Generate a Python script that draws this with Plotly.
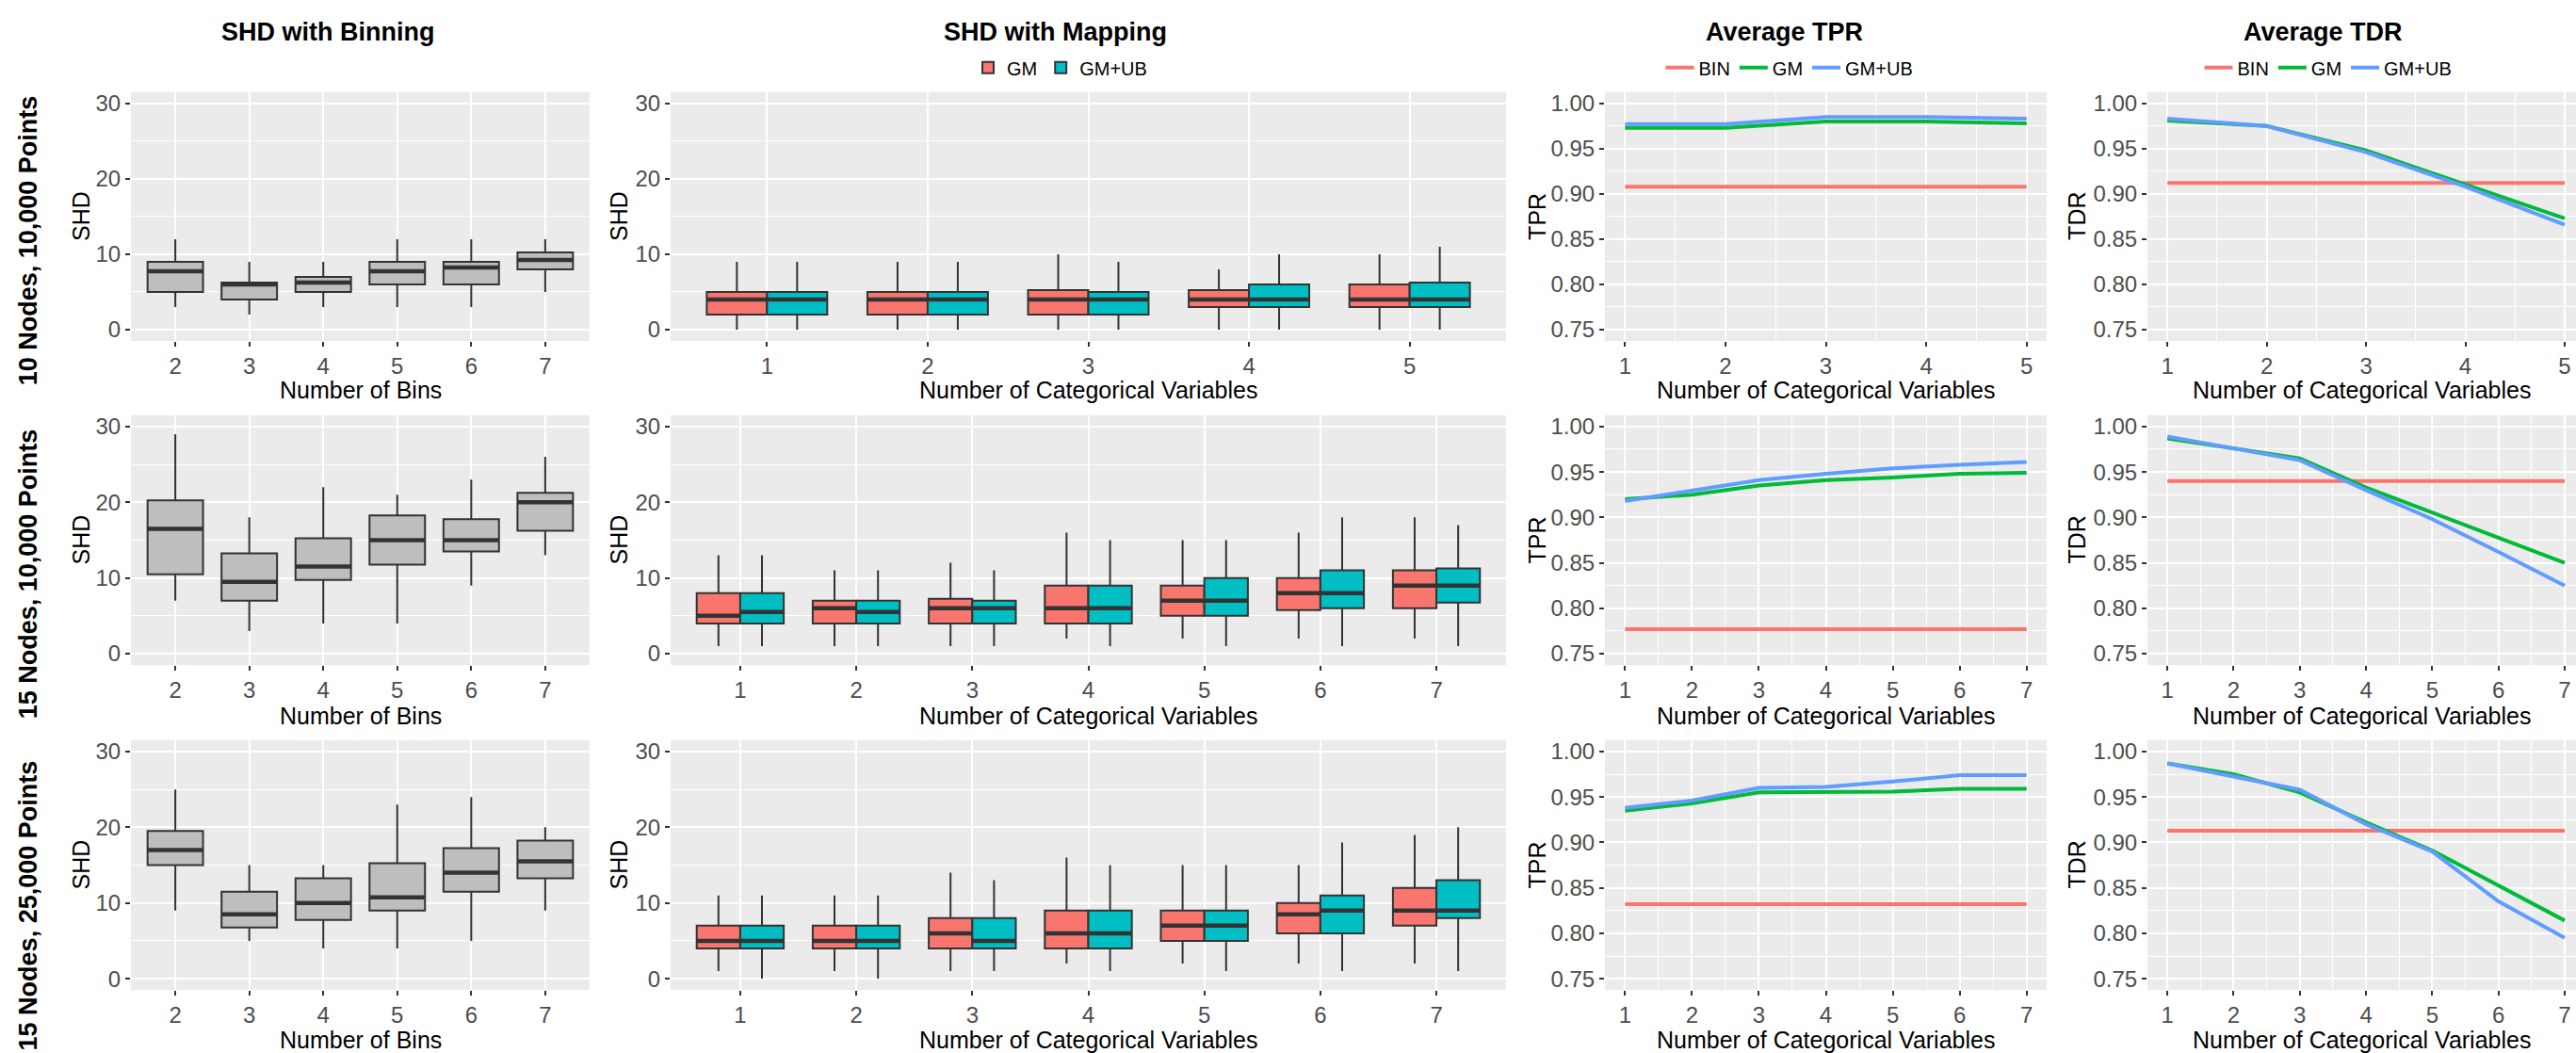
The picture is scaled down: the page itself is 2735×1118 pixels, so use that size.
import plotly.graph_objects as go

W, H = 2735, 1118

# ---------------- labels ----------------
row_labels = ["10 Nodes, 10,000 Points", "15 Nodes, 10,000 Points", "15 Nodes, 25,000 Points"]
col_titles = ["SHD with Binning", "SHD with Mapping", "Average TPR", "Average TDR"]
x_titles = ["Number of Bins", "Number of Categorical Variables",
            "Number of Categorical Variables", "Number of Categorical Variables"]
y_titles = ["SHD", "SHD", "TPR", "TDR"]

# ---------------- SHD with binning (rows: 10n/10k, 15n/10k, 15n/25k) ----------------
bins = [2, 3, 4, 5, 6, 7]
bin_low = [[3, 2, 3, 3, 3, 5], [7, 3, 4, 4, 9, 13], [9, 5, 4, 4, 5, 9]]
bin_q1 = [[5, 4, 5, 6, 6, 8], [10.5, 7, 9.75, 11.75, 13.5, 16.25], [15, 6.75, 7.75, 9, 11.5, 13.25]]
bin_med = [[7.75, 6, 6.25, 7.75, 8.25, 9.25], [16.5, 9.5, 11.5, 15, 15, 20], [17, 8.5, 10, 10.75, 14, 15.5]]
bin_q3 = [[9, 6.25, 7, 9, 9, 10.25], [20.25, 13.25, 15.25, 18.25, 17.75, 21.25], [19.5, 11.5, 13.25, 15.25, 17.25, 18.25]]
bin_high = [[12, 9, 9, 12, 12, 12], [29, 18, 22, 21, 23, 26], [25, 15, 15, 23, 24, 20]]

# ---------------- SHD with mapping ----------------
cat_vars = [[1, 2, 3, 4, 5], [1, 2, 3, 4, 5, 6, 7], [1, 2, 3, 4, 5, 6, 7]]

gm_low = [[0, 0, 0, 0, 0], [1, 1, 1, 2, 2, 2, 2], [1, 1, 1, 2, 2, 2, 2]]
gm_q1 = [[2, 2, 2, 3, 3], [4, 4, 4, 4, 5, 5.75, 6], [4, 4, 4, 4, 5, 6, 7]]
gm_med = [[4, 4, 4, 4, 4], [5, 6, 6, 6, 7, 8, 9], [5, 5, 6, 6, 7, 8.5, 9]]
gm_q3 = [[5, 5, 5.25, 5.25, 6], [8, 7, 7.25, 9, 9, 10, 11], [7, 7, 8, 9, 9, 10, 12]]
gm_high = [[9, 9, 10, 8, 10], [13, 11, 12, 16, 15, 16, 18], [11, 11, 14, 16, 15, 15, 19]]

ub_low = [[0, 0, 0, 0, 0], [1, 1, 1, 1, 1, 1, 1], [0, 0, 1, 1, 1, 1, 1]]
ub_q1 = [[2, 2, 2, 3, 3], [4, 4, 4, 4, 5, 6, 6.75], [4, 4, 4, 4, 5, 6, 8]]
ub_med = [[4, 4, 4, 4, 4], [5.5, 5.5, 6, 6, 7, 8, 9], [5, 5, 5, 6, 7, 9, 9]]
ub_q3 = [[5, 5, 5, 6, 6.25], [8, 7, 7, 9, 10, 11, 11.25], [7, 7, 8, 9, 9, 11, 13]]
ub_high = [[9, 9, 9, 10, 11], [13, 11, 11, 15, 15, 18, 17], [11, 11, 13, 15, 15, 18, 20]]

# ---------------- average TPR ----------------
tpr_bin = [[0.908, 0.908, 0.908, 0.908, 0.908],
           [0.777, 0.777, 0.777, 0.777, 0.777, 0.777, 0.777],
           [0.832, 0.832, 0.832, 0.832, 0.832, 0.832, 0.832]]
tpr_gm = [[0.973, 0.973, 0.980, 0.980, 0.978],
          [0.920, 0.925, 0.935, 0.941, 0.944, 0.948, 0.949],
          [0.935, 0.943, 0.955, 0.955, 0.956, 0.959, 0.959]]
tpr_ub = [[0.977, 0.977, 0.985, 0.985, 0.983],
          [0.918, 0.930, 0.941, 0.948, 0.954, 0.958, 0.961],
          [0.938, 0.946, 0.960, 0.961, 0.967, 0.974, 0.974]]

# ---------------- average TDR ----------------
tdr_bin = [[0.912, 0.912, 0.912, 0.912, 0.912],
           [0.940, 0.940, 0.940, 0.940, 0.940, 0.940, 0.940],
           [0.913, 0.913, 0.913, 0.913, 0.913, 0.913, 0.913]]
tdr_gm = [[0.981, 0.975, 0.948, 0.911, 0.873],
          [0.987, 0.976, 0.965, 0.933, 0.905, 0.877, 0.850],
          [0.987, 0.975, 0.955, 0.922, 0.891, 0.853, 0.814]]
tdr_ub = [[0.983, 0.975, 0.946, 0.908, 0.866],
          [0.989, 0.976, 0.963, 0.930, 0.898, 0.862, 0.825],
          [0.987, 0.972, 0.958, 0.920, 0.890, 0.835, 0.795]]

# ---------------- styling ----------------
FONT = "Liberation Sans, Arial, sans-serif"
PANEL_BG = "#EBEBEB"
OUTLINE = "#333333"
RED, TEAL, GREEN, BLUE = "#F8766D", "#00BFC4", "#00BA38", "#619CFF"
BOX_GREY = "#BEBEBE"

col_px = [(139, 626), (712, 1599), (1704, 2173), (2280, 2735)]
row_px = [(96, 361), (440, 706), (786, 1052)]
ytitle_x = [86, 657, 1632, 2205]
xtitle_y = [413, 760, 1105]
row_label_y = [254, 609, 962]


def dom_x(c):
    a, b = col_px[c]
    return [a / W, b / W]


def dom_y(r):
    t, b = row_px[r]
    return [1 - b / H, 1 - t / H]


def ax_names(r, c):
    k = r * 4 + c + 1
    s = "" if k == 1 else str(k)
    return "x" + s, "y" + s, "xaxis" + s, "yaxis" + s


def median_segments(xs, meds, half):
    xx, yy = [], []
    for x, m in zip(xs, meds):
        xx += [x - half, x + half, None]
        yy += [m, m, None]
    return xx, yy


fig = go.Figure()
layout_axes = {}

tick_font = dict(family=FONT, size=24, color="#4D4D4D")
common_axis = dict(showgrid=True, gridcolor="white", gridwidth=2.2, zeroline=False,
                   showline=False, ticks="outside", ticklen=5, tickwidth=2,
                   tickcolor=OUTLINE, tickfont=tick_font, fixedrange=True)

for r in range(3):
    for c in range(4):
        xr, yr, xa, ya = ax_names(r, c)
        if c == 0:
            fig.add_trace(go.Box(
                x=bins, q1=bin_q1[r], median=bin_med[r], q3=bin_q3[r],
                lowerfence=bin_low[r], upperfence=bin_high[r], width=0.75,
                fillcolor=BOX_GREY, line=dict(color=OUTLINE, width=2),
                whiskerwidth=0, boxpoints=False, showlegend=False,
                xaxis=xr, yaxis=yr, hoverinfo="skip"))
            mx, my = median_segments(bins, bin_med[r], 0.375)
            fig.add_trace(go.Scatter(x=mx, y=my, mode="lines",
                                     line=dict(color=OUTLINE, width=4.5),
                                     showlegend=False, hoverinfo="skip",
                                     xaxis=xr, yaxis=yr))
            xcfg = dict(range=[bins[0] - 0.6, bins[-1] + 0.6], tickvals=bins)
            ycfg = dict(range=[-1.5, 31.5], tickvals=[0, 10, 20, 30],
                        minor=dict(tickvals=[5, 15, 25], showgrid=True,
                                   gridcolor="white", gridwidth=1.1, ticks=""))
        elif c == 1:
            cats = cat_vars[r]
            series = [("GM", RED, -0.1875, gm_low, gm_q1, gm_med, gm_q3, gm_high),
                      ("GM+UB", TEAL, 0.1875, ub_low, ub_q1, ub_med, ub_q3, ub_high)]
            for name, col, off, lo, q1, md, q3, hi in series:
                xs = [v + off for v in cats]
                fig.add_trace(go.Box(
                    x=xs, q1=q1[r], median=md[r], q3=q3[r],
                    lowerfence=lo[r], upperfence=hi[r], width=0.375,
                    fillcolor=col, line=dict(color=OUTLINE, width=2),
                    whiskerwidth=0, boxpoints=False, name=name,
                    legend="legend", legendgroup=name, showlegend=(r == 0),
                    xaxis=xr, yaxis=yr, hoverinfo="skip"))
                mx, my = median_segments(xs, md[r], 0.1875)
                fig.add_trace(go.Scatter(x=mx, y=my, mode="lines",
                                         line=dict(color=OUTLINE, width=4.5),
                                         showlegend=False, hoverinfo="skip",
                                         xaxis=xr, yaxis=yr))
            xcfg = dict(range=[0.4, cats[-1] + 0.6], tickvals=cats)
            ycfg = dict(range=[-1.5, 31.5], tickvals=[0, 10, 20, 30],
                        minor=dict(tickvals=[5, 15, 25], showgrid=True,
                                   gridcolor="white", gridwidth=1.1, ticks=""))
        else:
            cats = cat_vars[r]
            if c == 2:
                data = [("BIN", RED, tpr_bin), ("GM", GREEN, tpr_gm), ("GM+UB", BLUE, tpr_ub)]
                leg = "legend2"
            else:
                data = [("BIN", RED, tdr_bin), ("GM", GREEN, tdr_gm), ("GM+UB", BLUE, tdr_ub)]
                leg = "legend3"
            for name, col, vals in data:
                fig.add_trace(go.Scatter(
                    x=cats, y=vals[r], mode="lines", name=name,
                    line=dict(color=col, width=4), legend=leg,
                    legendgroup=leg + name, showlegend=(r == 0),
                    xaxis=xr, yaxis=yr, hoverinfo="skip"))
            n = cats[-1]
            if c == 2:
                xrange = [1 - 0.05 * (n - 1), n + 0.05 * (n - 1)]
            else:
                step = 422.0 / (n - 1)
                xrange = [1 - 0.05 * (n - 1), n + 12.0 / step]
            xcfg = dict(range=xrange, tickvals=cats,
                        minor=dict(tickvals=[v + 0.5 for v in cats[:-1]], showgrid=True,
                                   gridcolor="white", gridwidth=1.1, ticks=""))
            yt = [0.75, 0.80, 0.85, 0.90, 0.95, 1.00]
            ycfg = dict(range=[0.7375, 1.0125], tickvals=yt,
                        ticktext=["%.2f" % v for v in yt],
                        minor=dict(tickvals=[0.775, 0.825, 0.875, 0.925, 0.975],
                                   showgrid=True, gridcolor="white", gridwidth=1.1, ticks=""))

        layout_axes[xa] = dict(common_axis, domain=dom_x(c), anchor=yr, **xcfg)
        layout_axes[ya] = dict(common_axis, domain=dom_y(r), anchor=xr, **ycfg)

annotations = []
# column titles
title_cx = [348, 1120, 1894, 2466]
for c in range(4):
    annotations.append(dict(text="<b>%s</b>" % col_titles[c], x=title_cx[c] / W, y=1 - 32 / H,
                            xref="paper", yref="paper", showarrow=False,
                            font=dict(family=FONT, size=27, color="black"),
                            xanchor="center", yanchor="middle"))
# row labels
for r in range(3):
    annotations.append(dict(text="<b>%s</b>" % row_labels[r], x=30 / W, y=1 - row_label_y[r] / H,
                            xref="paper", yref="paper", showarrow=False, textangle=-90,
                            font=dict(family=FONT, size=27, color="black"),
                            xanchor="center", yanchor="middle"))
# axis titles
for r in range(3):
    t, b = row_px[r]
    for c in range(4):
        a, bb = col_px[c]
        annotations.append(dict(text=x_titles[c], x=(a + bb) / 2 / W, y=1 - xtitle_y[r] / H,
                                xref="paper", yref="paper", showarrow=False,
                                font=dict(family=FONT, size=25, color="black"),
                                xanchor="center", yanchor="middle"))
        annotations.append(dict(text=y_titles[c], x=ytitle_x[c] / W, y=1 - (t + b) / 2 / H,
                                xref="paper", yref="paper", showarrow=False, textangle=-90,
                                font=dict(family=FONT, size=25, color="black"),
                                xanchor="center", yanchor="middle"))

legend_common = dict(orientation="h", yanchor="middle", xanchor="center",
                     y=1 - 70 / H, bgcolor="rgba(0,0,0,0)",
                     font=dict(family=FONT, size=20, color="black"),
                     itemclick=False, itemdoubleclick=False, tracegroupgap=0)

fig.update_layout(
    width=W, height=H,
    margin=dict(l=0, r=0, t=0, b=0),
    paper_bgcolor="white", plot_bgcolor=PANEL_BG,
    font=dict(family=FONT),
    boxmode="overlay",
    annotations=annotations,
    legend=dict(legend_common, x=1126 / W),
    legend2=dict(legend_common, x=1900 / W),
    legend3=dict(legend_common, x=2472 / W),
    **layout_axes,
)

fig.write_html("out.html")
